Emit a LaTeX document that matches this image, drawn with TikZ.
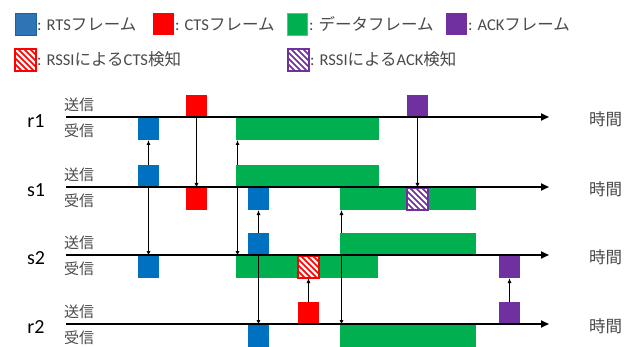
\documentclass[tikz,border=0pt]{standalone}
\usepackage{fontspec}
\setmainfont{Carlito}
\newfontfamily\jp{Noto Sans CJK JP}
\usetikzlibrary{arrows.meta,calc}
\definecolor{cBlue}{HTML}{0070C0}
\definecolor{cBlueL}{HTML}{2E75B6}
\definecolor{cBlueD}{HTML}{1F5F9F}
\definecolor{cRed}{HTML}{FF0000}
\definecolor{cGreen}{HTML}{00B050}
\definecolor{cPurple}{HTML}{7030A0}
\definecolor{txtgray}{HTML}{4A4A4A}
\tikzset{
  frame/.style={inner sep=0pt, outer sep=0pt, anchor=north west, minimum width=21pt, minimum height=22pt},
  rts/.style={frame, fill=cBlue},
  cts/.style={frame, fill=cRed},
  ack/.style={frame, fill=cPurple},
  data/.style={frame, fill=cGreen, minimum width=#1},
  hatchbox/.style={frame, fill=#1, draw=#1, line width=1.2pt,
    path picture={\foreach \k in {-36,-30,...,30}
      \draw[white, line width=2.3pt] ($(path picture bounding box.north west)+(\k pt,0)$) -- ++(34pt,-34pt);}},
  timeline/.style={line width=1.8pt, -{Triangle[length=8pt,width=7pt]}},
  conn/.style={line width=1.1pt, -{Latex[length=5pt,width=4pt]}},
  lgtxt/.style={anchor=west, inner sep=0pt, text=txtgray, font=\fontsize{16.5}{19}\selectfont},
  rowlbl/.style={inner sep=0pt, text=black, font=\fontsize{20}{24}\selectfont},
  txlbl/.style={anchor=west, inner sep=0pt, text=txtgray, font=\fontsize{15}{18}\selectfont\jp},
  timelbl/.style={anchor=west, inner sep=0pt, text=txtgray, font=\fontsize{16.5}{19}\selectfont\jp},
}
\begin{document}
\begin{tikzpicture}[x=1pt,y=-1pt]
\useasboundingbox[fill=white] (0,0) rectangle (636,347);

% ---------- legend ----------
\node[frame, fill=cBlueL, draw=cBlueD, line width=0.6pt] (lgrts) at (15,13) {};
\node[lgtxt] (lgrtst) at (37,24) {: RTS{\jp フレーム}};
\node[frame, fill=cRed] (lgcts) at (153,13) {};
\node[lgtxt] (lgctst) at (175,24) {: CTS{\jp フレーム}};
\node[frame, fill=cGreen, minimum width=20pt, draw=cGreen!70, line width=0.6pt] (lgdata) at (287,13) {};
\node[lgtxt] (lgdatat) at (309,24) {: {\jp データフレーム}};
\node[frame, fill=cPurple] (lgack) at (446,13) {};
\node[lgtxt] (lgackt) at (468,24) {: ACK{\jp フレーム}};
\node[hatchbox=cRed] (lghcts) at (15,49) {};
\node[lgtxt] (lghctst) at (37,59) {: RSSI{\jp による}CTS{\jp 検知}};
\node[hatchbox=cPurple] (lghack) at (288,49) {};
\node[lgtxt] (lghackt) at (310,59) {: RSSI{\jp による}ACK{\jp 検知}};

% ---------- frames ----------
% r1 (line y=117)
\node[cts] (r1cts) at (186,95) {};
\node[ack] (r1ack) at (407,95) {};
\node[rts] (r1rts) at (138,118) {};
\node[data=143pt] (r1data) at (236,118) {};
% s1 (line y=187)
\node[rts] (s1rts) at (138,165) {};
\node[data=143pt] (s1data) at (236,165) {};
\node[cts] (s1cts) at (186,188) {};
\node[rts] (s1rrts) at (248,188) {};
\node[data=136pt] (s1rdata) at (340,188) {};
\node[hatchbox=cPurple] (s1hack) at (407,188) {};
% s2 (line y=255)
\node[rts] (s2rts) at (248,233) {};
\node[data=136pt] (s2data) at (340,233) {};
\node[rts] (s2rrts) at (138,256) {};
\node[data=142pt] (s2rdata) at (236,256) {};
\node[hatchbox=cRed] (s2hcts) at (298,256) {};
\node[ack] (s2rack) at (499,256) {};
% r2 (line y=324)
\node[cts] (r2cts) at (298,302) {};
\node[ack] (r2ack) at (499,302) {};
\node[rts] (r2rrts) at (248,325) {};
\node[data=136pt] (r2rdata) at (340,325) {};

% ---------- timelines ----------
\foreach \n/\y in {r1/117, s1/187, s2/255, r2/324} {
  \coordinate (\n a) at (66,\y);
  \coordinate (\n b) at (549,\y);
}
\draw[timeline] (r1a) -- (r1b);
\draw[timeline] (s1a) -- (s1b);
\draw[timeline] (s2a) -- (s2b);
\draw[timeline] (r2a) -- (r2b);

% ---------- labels ----------
\node[rowlbl] (lr1) at (36,121) {r1};
\node[rowlbl] (ls1) at (36,190) {s1};
\node[rowlbl] (ls2) at (36,258) {s2};
\node[rowlbl] (lr2) at (36,327) {r2};
\foreach \n/\y in {r1/117, s1/187, s2/255, r2/324} {
  \node[txlbl] (\n tx) at (64,\y-12) {送信};
  \node[txlbl] (\n rx) at (64,\y+14) {受信};
  \node[timelbl] (\n tm) at (589,\y+2) {時間};
}

% ---------- connectors ----------
\draw[conn] (s1rts.north) -- (r1rts.south);
\draw[conn] (s1rts.south) -- (s2rrts.north);
\draw[conn] (r1cts.south) -- (s1cts.north);
\draw[conn] ($(s1data.north west)+(1.5,0)$) -- ($(r1data.south west)+(1.5,0)$);
\draw[conn] ($(s1data.south west)+(1.5,0)$) -- ($(s2rdata.north west)+(1.5,0)$);
\draw[conn] (s2rts.north) -- (s1rrts.south);
\draw[conn] (s2rts.south) -- (r2rrts.north);
\draw[conn] (r2cts.north) -- (s2hcts.south);
\draw[conn] ($(s2data.north west)+(1.5,0)$) -- ($(s1rdata.south west)+(1.5,0)$);
\draw[conn] ($(s2data.south west)+(1.5,0)$) -- ($(r2rdata.north west)+(1.5,0)$);
\draw[conn] (r1ack.south) -- (s1hack.north);
\draw[conn] (r2ack.north) -- (s2rack.south);
\end{tikzpicture}
\end{document}
